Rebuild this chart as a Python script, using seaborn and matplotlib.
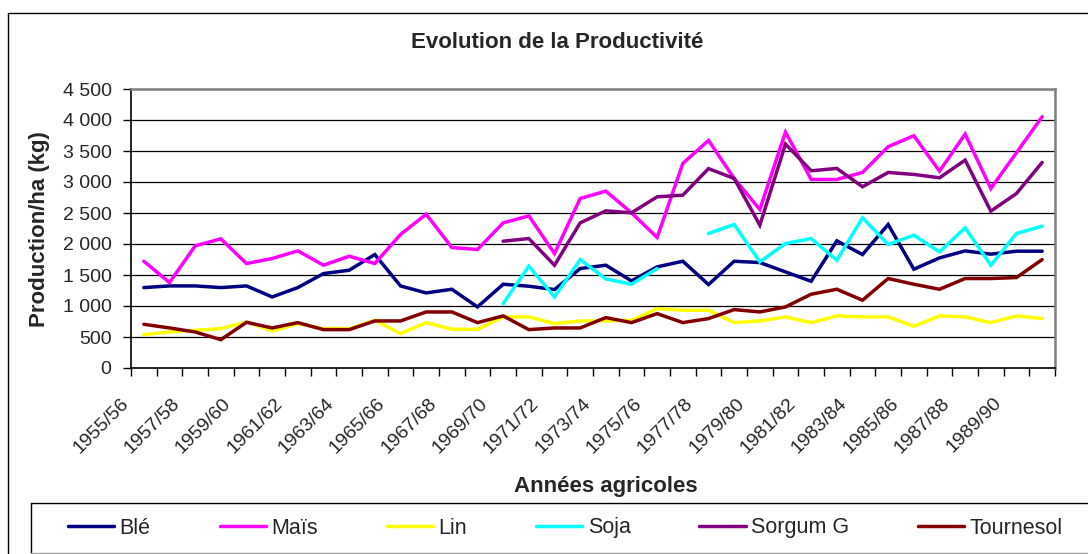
import numpy as np
import pandas as pd
import seaborn as sns
import matplotlib
matplotlib.use("Agg")
import matplotlib.pyplot as plt
from matplotlib.lines import Line2D
from matplotlib.ticker import FuncFormatter
import matplotlib.transforms as mtransforms

# ---------------- data ----------------
seasons = ["1955/56", "1956/57", "1957/58", "1958/59", "1959/60", "1960/61",
           "1961/62", "1962/63", "1963/64", "1964/65", "1965/66", "1966/67",
           "1967/68", "1968/69", "1969/70", "1970/71", "1971/72", "1972/73",
           "1973/74", "1974/75", "1975/76", "1976/77", "1977/78", "1978/79",
           "1979/80", "1980/81", "1981/82", "1982/83", "1983/84", "1984/85",
           "1985/86", "1986/87", "1987/88", "1988/89", "1989/90", "1990/91"]

ble = [1297, 1324, 1324, 1297, 1324, 1146, 1297, 1523, 1577, 1830,
       1324, 1211, 1270, 985, 1351, 1319, 1265, 1604, 1658, 1405,
       1631, 1722, 1346, 1722, 1701, 1550, 1399, 2051, 1830, 2315,
       1593, 1776, 1889, 1836, 1884, 1884]

mais = [1722, 1378, 1970, 2083, 1685, 1766, 1889, 1658, 1803, 1685,
        2153, 2481, 1943, 1911, 2341, 2454, 1846, 2734, 2853, 2503,
        2105, 3300, 3670, 3057, 2557, 3805, 3041, 3041, 3154, 3569,
        3746, 3176, 3773, 2896, 3472, 4053]

lin = [538, 581, 608, 635, 743, 597, 716, 635, 635, 770,
       554, 732, 624, 624, 824, 824, 716, 759, 759, 770,
       958, 931, 931, 732, 759, 824, 732, 840, 824, 824,
       673, 840, 824, 732, 840, 797]

soja = [np.nan] * 14 + [1039, 1642, 1146, 1749, 1437, 1351, 1604, np.nan,
                        2169, 2315, 1712, 2008, 2088, 1738, 2422, 1992,
                        2142, 1873, 2261, 1658, 2169, 2288]

sorgum = [np.nan] * 14 + [2045, 2088, 1658, 2341, 2535, 2503, 2761, 2788,
                          3216, 3057, 2304, 3612, 3181, 3219, 2923, 3154,
                          3122, 3068, 3353, 2530, 2815, 3316]

tournesol = [705, 646, 581, 457, 737, 646, 732, 619, 619, 759,
             759, 904, 904, 732, 840, 619, 646, 646, 813, 732,
             877, 732, 797, 942, 904, 985, 1190, 1270, 1093, 1443,
             1351, 1270, 1443, 1443, 1459, 1749]

crops = ["Blé", "Maïs", "Lin", "Soja", "Sorgum G", "Tournesol"]
colors = ["#000080", "#FF00FF", "#FFFF00", "#00FFFF", "#800080", "#800000"]
y_ticks = [0, 500, 1000, 1500, 2000, 2500, 3000, 3500, 4000, 4500]

title = "Evolution de la Productivité"
x_title = "Années agricoles"
y_title = "Production/ha (kg)"

# ---------------- style ----------------
sns.set_style("white")
plt.rcParams["font.family"] = ["Liberation Sans", "DejaVu Sans"]

W, H = 1088, 554
fig = plt.figure(figsize=(W / 100, H / 100), dpi=100)
ax = fig.add_axes([131 / W, 1 - 368 / H, (1055 - 131) / W, (368 - 89) / H])

series = dict(zip(crops, [ble, mais, lin, soja, sorgum, tournesol]))
df = pd.DataFrame({"idx": np.arange(len(seasons)), **series})
df = df.melt(id_vars="idx", var_name="crop", value_name="value")
# segments so that gaps (missing values) break the line
df["segment"] = df.groupby("crop")["value"].transform(lambda s: s.isna().cumsum())

sns.lineplot(data=df, x="idx", y="value", hue="crop", hue_order=crops,
             units="segment", estimator=None, sort=False,
             palette=dict(zip(crops, colors)), lw=2.5, legend=False, ax=ax,
             solid_joinstyle="miter")

# ---------------- axes ----------------
ax.set_xlim(-0.5, len(seasons) - 0.5)
ax.set_ylim(y_ticks[0], y_ticks[-1])
ax.set_yticks(y_ticks)
ax.yaxis.set_major_formatter(FuncFormatter(lambda v, p: f"{int(v):,}".replace(",", " ")))

ax.set_xticks(np.arange(0, len(seasons), 2))
ax.set_xticklabels(seasons[::2], rotation=45, ha="right", va="center",
                   rotation_mode="anchor", fontsize=14)
ax.set_xticks(np.arange(-0.5, len(seasons), 1), minor=True)
ax.tick_params(axis="x", which="major", bottom=True, length=0, pad=23.5)
ax.tick_params(axis="x", which="minor", bottom=True, length=5.5, width=1,
               color="black", direction="out")
ax.tick_params(axis="y", left=True, length=6, width=1, color="black",
               direction="out", pad=8, labelsize=14)
offset = mtransforms.ScaledTranslation(-18 / 100, 0, fig.dpi_scale_trans)
for lbl in ax.get_xticklabels():
    lbl.set_transform(lbl.get_transform() + offset)

ax.yaxis.grid(True, color="black", lw=0.9)
ax.xaxis.grid(False)
ax.set_axisbelow(True)

for s in ["left", "bottom"]:
    ax.spines[s].set_color("black")
    ax.spines[s].set_linewidth(1.2)
for s in ["top", "right"]:
    ax.spines[s].set_color("#808080")
    ax.spines[s].set_linewidth(1.8)

ax.set_xlabel(x_title, fontsize=16, fontweight="bold", va="center")
ax.xaxis.set_label_coords(0.514, -0.423)
ax.set_ylabel(y_title, fontsize=16, fontweight="bold", va="center")
ax.yaxis.set_label_coords(-0.0985, 0.498)

fig.text(557 / W, 1 - 42 / H, title, ha="center", va="center",
         fontsize=16, fontweight="bold")

# ---------------- chart / legend frames ----------------
fig.add_artist(Line2D([8 / W, 8 / W], [0, 1 - 13 / H], transform=fig.transFigure,
                      color="black", lw=1))
fig.add_artist(Line2D([8 / W, 1], [1 - 13 / H, 1 - 13 / H], transform=fig.transFigure,
                      color="black", lw=1))
fig.add_artist(Line2D([31 / W, 1], [1 - 503 / H, 1 - 503 / H], transform=fig.transFigure,
                      color="black", lw=1))
fig.add_artist(Line2D([31 / W, 31 / W], [1 - 503 / H, 1 - 553 / H], transform=fig.transFigure,
                      color="black", lw=1))
fig.add_artist(Line2D([31 / W, 1], [1 - 552.5 / H, 1 - 552.5 / H], transform=fig.transFigure,
                      color="#a0a0a0", lw=1))

handles = [Line2D([], [], color=c, lw=2.5) for c in colors]
fig.legend(handles, crops, loc="center left", bbox_to_anchor=(68 / W, 1 - 528 / H),
           ncol=6, frameon=False, fontsize=15.5, handlelength=2.15,
           handletextpad=0.25, columnspacing=3.2, borderpad=0, borderaxespad=0)

fig.savefig("out.png", dpi=100)
